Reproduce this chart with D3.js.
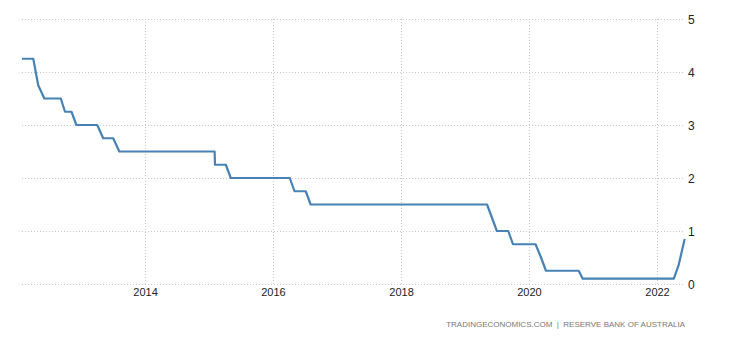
<!DOCTYPE html>
<html>
<head>
<meta charset="utf-8">
<script src="https://cdn.jsdelivr.net/npm/d3@7"></script>
<style>
    body { margin: 0; background: #fff; }
    text { font-family: "Liberation Sans", Arial, sans-serif; }
</style>
</head>
<body>
<script>
// cash rate (date of each point, rate in %)
const dates = [
    "2012-01-29", "2012-04-03", "2012-05-01", "2012-06-05", "2012-09-07",
    "2012-10-01", "2012-11-07", "2012-12-05", "2013-04-03", "2013-05-07",
    "2013-07-03", "2013-08-07", "2015-02-02", "2015-02-04", "2015-04-07",
    "2015-05-05", "2016-04-06", "2016-05-03", "2016-07-06", "2016-08-03",
    "2019-05-07", "2019-06-04", "2019-07-02", "2019-09-05", "2019-10-02",
    "2020-02-08", "2020-03-10", "2020-04-07", "2020-10-11", "2020-11-03",
    "2022-04-07", "2022-05-04", "2022-06-08"
];
const rates = [
    4.25, 4.25, 3.75, 3.50, 3.50,
    3.25, 3.25, 3.00, 3.00, 2.75,
    2.75, 2.50, 2.50, 2.25, 2.25,
    2.00, 2.00, 1.75, 1.75, 1.50,
    1.50, 1.25, 1.00, 1.00, 0.75,
    0.75, 0.50, 0.25, 0.25, 0.10,
    0.10, 0.35, 0.85
];
const yTicks = [0, 1, 2, 3, 4, 5];
const xTickYears = [2014, 2016, 2018, 2020, 2022];
const source = "TRADINGECONOMICS.COM  |  RESERVE BANK OF AUSTRALIA";

const width = 730, height = 340;
const parse = d3.timeParse("%Y-%m-%d");
const data = dates.map(function(d, i) {
    return { date: parse(d), value: rates[i] };
});

const x = d3.scaleTime()
    .domain([new Date(2012, 0, 1), new Date(2022, 0, 1)])
    .range([17, 657]);
const y = d3.scaleLinear()
    .domain([0, 5])
    .range([284, 19]);

const svg = d3.select("body").append("svg")
    .attr("width", width)
    .attr("height", height);

// horizontal grid + labels on the right
const yAxis = d3.axisRight(y)
    .tickValues(yTicks)
    .tickSize(683 - 22)
    .tickPadding(5)
    .tickFormat(d3.format("d"));

svg.append("g")
    .attr("transform", "translate(22,0)")
    .call(yAxis)
    .call(function(g) {
        g.select(".domain").remove();
        g.selectAll(".tick line")
            .attr("stroke", "#c8c8c8")
            .attr("stroke-dasharray", "1,2");
        g.selectAll(".tick text")
            .attr("fill", "#222")
            .attr("font-size", 12)
            .attr("dy", "0.35em");
    });

// vertical grid + year labels
const xAxis = d3.axisBottom(x)
    .tickValues(xTickYears.map(function(yr) { return new Date(yr, 0, 1); }))
    .tickSize(284 - 19)
    .tickPadding(4)
    .tickFormat(d3.timeFormat("%Y"));

svg.append("g")
    .attr("transform", "translate(0,19)")
    .call(xAxis)
    .call(function(g) {
        g.select(".domain").remove();
        g.selectAll(".tick line")
            .attr("stroke", "#c8c8c8")
            .attr("stroke-dasharray", "1,2");
        g.selectAll(".tick text")
            .attr("fill", "#222")
            .attr("font-size", 11);
    });

const line = d3.line()
    .x(function(d) { return x(d.date); })
    .y(function(d) { return y(d.value); });

svg.append("path")
    .datum(data)
    .attr("d", line)
    .attr("fill", "none")
    .attr("stroke", "#4682b4")
    .attr("stroke-width", 2.2)
    .attr("stroke-linejoin", "round");

svg.append("text")
    .attr("x", 685)
    .attr("y", 327)
    .attr("text-anchor", "end")
    .attr("font-size", 8)
    .attr("fill", "#777")
    .attr("xml:space", "preserve")
    .text(source);
</script>
</body>
</html>
